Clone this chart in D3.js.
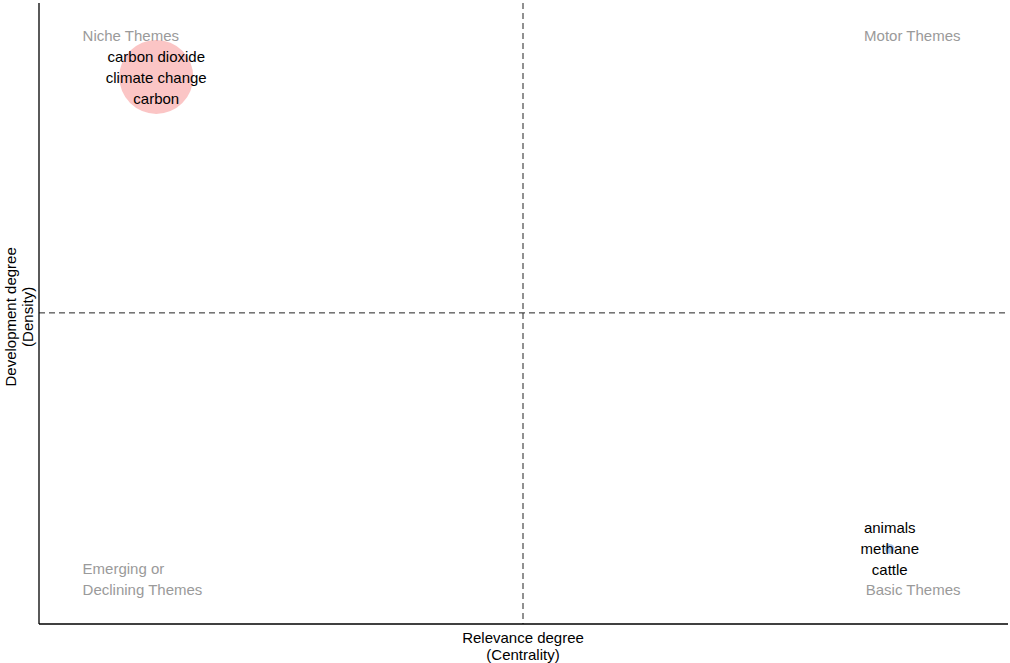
<!DOCTYPE html>
<html>
<head>
<meta charset="utf-8">
<script src="https://cdn.jsdelivr.net/npm/d3@7"></script>
<style>
body { margin: 0; background: #fff; }
text { font-family: "Liberation Sans", Arial, sans-serif; }
</style>
</head>
<body>
<script>
"use strict";
const clusterWords = [["carbon dioxide", "climate change", "carbon"], ["animals", "methane", "cattle"]];
const centrality = [0.121, 0.878];
const density = [0.881, 0.121];
const freq = [120, 2];
const colors = ["rgba(248,150,150,0.55)", "rgba(120,170,230,0.6)"];
const quadrants = [
	{lines: ["Niche Themes"], px: 0.045, py: 0.947, anchor: "start"},
	{lines: ["Motor Themes"], px: 0.951, py: 0.947, anchor: "end"},
	{lines: ["Emerging or", "Declining Themes"], px: 0.045, py: 0.089, anchor: "start"},
	{lines: ["Basic Themes"], px: 0.951, py: 0.055, anchor: "end"}
];

const w = 1010, h = 663;
const m = {l: 39, r: 2, t: 3, b: 39};
const svg = d3.select("body").append("svg").attr("width", w).attr("height", h);
const x = d3.scaleLinear().domain([0, 1]).range([m.l, w - m.r]);
const y = d3.scaleLinear().domain([0, 1]).range([h - m.b, m.t]);
const r = d3.scaleSqrt().domain([0, d3.max(freq)]).range([0, 37]);

// quadrant dividers at the means
const mx = d3.mean(centrality), my = d3.mean(density);
svg.append("line").attr("x1", x(mx)).attr("x2", x(mx)).attr("y1", y(1)).attr("y2", y(0))
	.attr("stroke", "#222").attr("stroke-dasharray", "6,4").attr("stroke-width", 1);
svg.append("line").attr("x1", x(0)).attr("x2", x(1)).attr("y1", y(my)).attr("y2", y(my))
	.attr("stroke", "#222").attr("stroke-dasharray", "6,4").attr("stroke-width", 1);

// quadrant labels
quadrants.forEach(q => {
	q.lines.forEach((s, i) => {
		svg.append("text").attr("x", x(q.px)).attr("y", y(q.py) + i * 21)
			.attr("text-anchor", q.anchor).attr("dominant-baseline", "central")
			.attr("fill", "#9a9a9a").attr("font-size", 15).text(s);
	});
});

// bubbles
svg.selectAll("circle.bubble").data(centrality).enter().append("circle").attr("class", "bubble")
	.attr("cx", (d, i) => x(d)).attr("cy", (d, i) => y(density[i]))
	.attr("r", (d, i) => r(freq[i])).attr("fill", (d, i) => colors[i]);

// cluster labels
centrality.forEach((c, i) => {
	clusterWords[i].forEach((s, j) => {
		svg.append("text").attr("x", x(c)).attr("y", y(density[i]) + (j - 1) * 21 + (i === 0 ? 1 : 0))
			.attr("text-anchor", "middle").attr("dominant-baseline", "central")
			.attr("fill", "#000").attr("font-size", 15).text(s);
	});
});

// axes (lines only)
svg.append("line").attr("x1", x(0)).attr("x2", x(0)).attr("y1", y(1)).attr("y2", y(0)).attr("stroke", "#000").attr("stroke-width", 1.3);
svg.append("line").attr("x1", x(0)).attr("x2", x(1)).attr("y1", y(0)).attr("y2", y(0)).attr("stroke", "#000").attr("stroke-width", 1.3);

// axis titles
["Relevance degree", "(Centrality)"].forEach((s, i) => {
	svg.append("text").attr("x", x(mx)).attr("y", 637 + i * 17).attr("text-anchor", "middle")
		.attr("dominant-baseline", "central").attr("font-size", 15).text(s);
});
["Development degree", "(Density)"].forEach((s, i) => {
	svg.append("text").attr("transform", "translate(" + (10 + i * 17) + "," + (y(my) + 4) + ") rotate(-90)")
		.attr("text-anchor", "middle").attr("dominant-baseline", "central").attr("font-size", 15).text(s);
});
</script>
</body>
</html>
